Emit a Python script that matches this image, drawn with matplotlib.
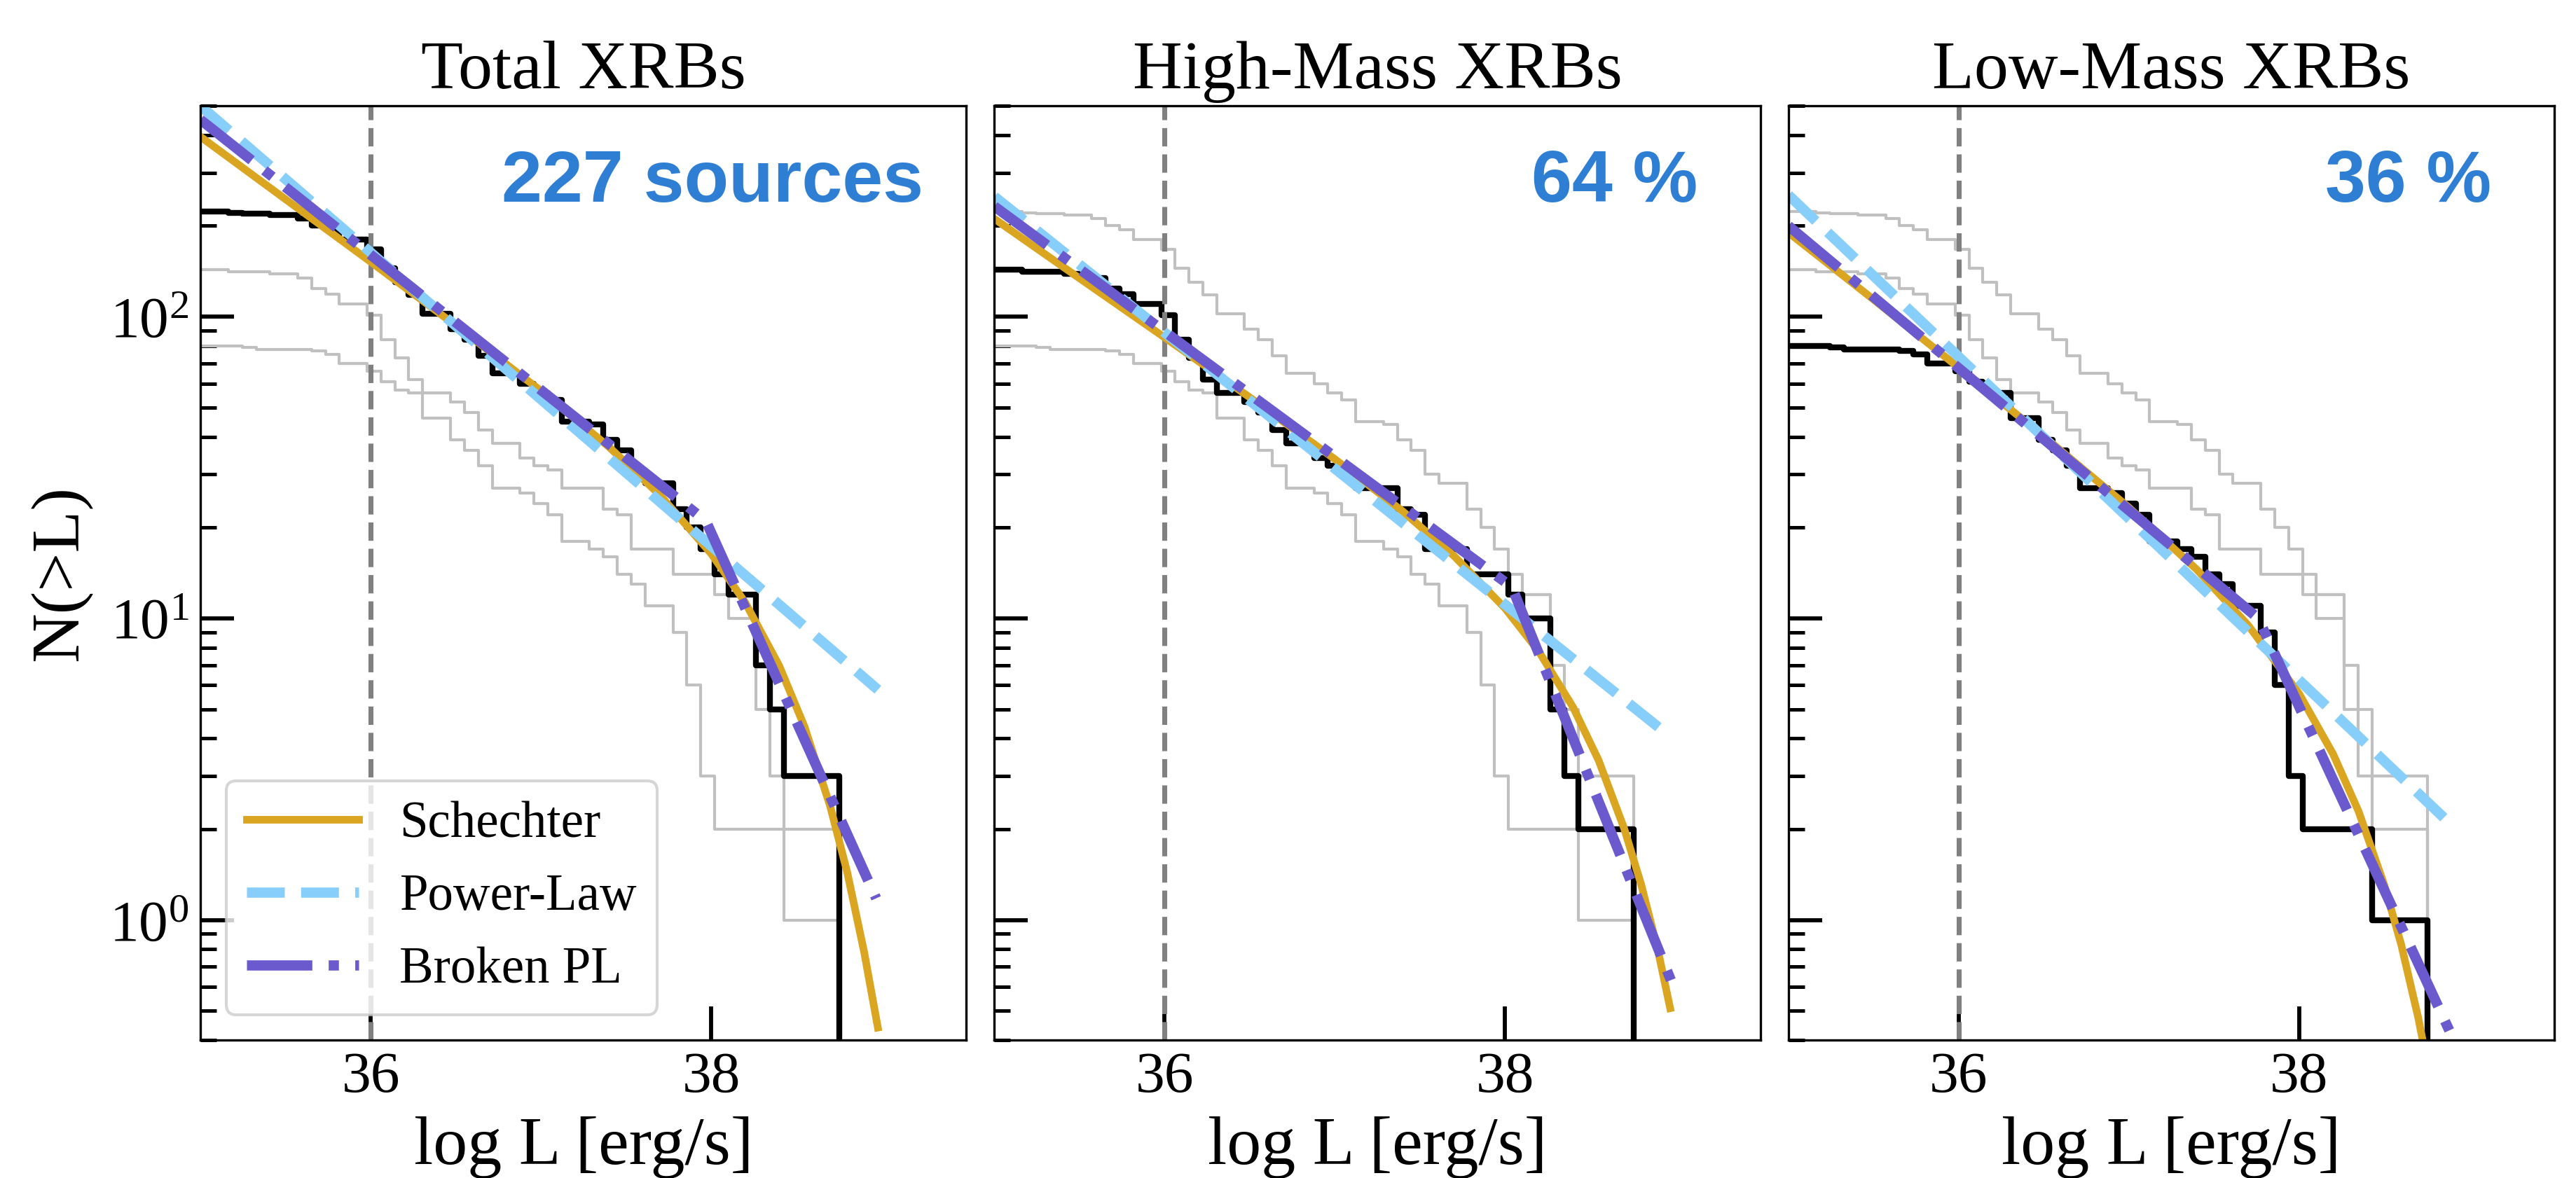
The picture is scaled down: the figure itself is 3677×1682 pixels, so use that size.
import matplotlib
matplotlib.use('Agg')
import matplotlib.pyplot as plt

plt.rcParams['font.family'] = ['Liberation Serif', 'DejaVu Serif']
plt.rcParams['mathtext.fontset'] = 'custom'
plt.rcParams['mathtext.rm'] = 'Liberation Serif'

# cumulative counts N(>L) (value holds until next edge)
logL_grid = [35.000, 35.082, 35.163, 35.245, 35.327, 35.408, 35.490, 35.571, 35.653, 35.735,
             35.816, 35.898, 35.980, 36.061, 36.143, 36.224, 36.306, 36.388, 36.469, 36.551,
             36.633, 36.714, 36.796, 36.878, 36.959, 37.041, 37.122, 37.204, 37.286, 37.367,
             37.449, 37.531, 37.612, 37.694, 37.776, 37.857, 37.939, 38.020, 38.102, 38.184,
             38.265, 38.347, 38.429, 38.510, 38.592, 38.673, 38.755]
N_total = [223, 223, 221, 220, 219, 217, 217, 212, 201, 194, 180, 180, 167, 145, 130, 118,
           102, 102, 91, 84, 74, 65, 65, 60, 56, 53, 45, 45, 44, 39, 36, 30, 28, 28, 23, 20,
           17, 14, 12, 12, 7, 5, 3, 3, 3, 3, 0]
N_hmxb = [143, 143, 141, 141, 141, 139, 139, 134, 124, 119, 110, 110, 101, 84, 73, 62,
          56, 56, 52, 48, 42, 38, 38, 34, 32, 31, 27, 27, 27, 23, 22, 17, 17, 17, 14, 14,
          14, 12, 10, 10, 5, 3, 2, 2, 2, 2, 0]
N_lmxb = [80, 80, 80, 79, 78, 78, 78, 78, 77, 75, 70, 70, 66, 61, 57, 56,
          46, 46, 39, 36, 32, 27, 27, 26, 24, 22, 18, 18, 17, 16, 14, 13, 11, 11, 9, 6,
          3, 2, 2, 2, 2, 2, 1, 1, 1, 1, 0]

titles = ['Total XRBs', 'High-Mass XRBs', 'Low-Mass XRBs']
notes = ['227 sources', '64 %', '36 %']

# fitted models, sampled from the plotted curves
sch_L_tot = [35.0, 35.5, 36.0, 36.5, 37.0, 37.4, 37.7, 38.0, 38.2, 38.4, 38.55, 38.7, 38.8, 38.9, 38.98]
sch_N_tot = [395, 245, 152, 93.5, 56.8, 37.0, 25.6, 16.4, 11.3, 6.97, 4.36, 2.38, 1.44, 0.78, 0.44]
sch_L_hm = [35.0, 35.5, 36.0, 36.5, 37.0, 37.4, 37.7, 38.0, 38.2, 38.4, 38.55, 38.7, 38.8, 38.9, 38.97]
sch_N_hm = [211, 134, 85.3, 54, 33.7, 22.6, 16.1, 10.8, 7.74, 5.07, 3.38, 2.01, 1.31, 0.785, 0.51]
sch_L_lm = [35.0, 35.5, 36.0, 36.5, 37.0, 37.4, 37.7, 38.0, 38.2, 38.35, 38.5, 38.6, 38.7, 38.76]
sch_N_lm = [190, 114, 67.8, 40.1, 23.3, 14.5, 9.5, 5.63, 3.55, 2.29, 1.31, 0.83, 0.475, 0.32]

pl_L_tot, pl_N_tot = [35.0, 38.98], [500, 5.8]
pl_L_hm, pl_N_hm = [35.0, 38.96], [250, 4.1]
pl_L_lm, pl_N_lm = [35.0, 38.91], [253, 2.03]

bpl_L_tot, bpl_N_tot = [35.0, 37.97, 38.97], [450, 21, 1.18]
bpl_L_hm, bpl_N_hm = [35.0, 38.04, 38.98], [232, 12.7, 0.62]
bpl_L_lm, bpl_N_lm = [35.0, 37.76, 39.0], [200, 10.0, 0.31]

curves = [N_total, N_hmxb, N_lmxb]
schechter = [(sch_L_tot, sch_N_tot), (sch_L_hm, sch_N_hm), (sch_L_lm, sch_N_lm)]
powerlaw = [(pl_L_tot, pl_N_tot), (pl_L_hm, pl_N_hm), (pl_L_lm, pl_N_lm)]
broken = [(bpl_L_tot, bpl_N_tot), (bpl_L_hm, bpl_N_hm), (bpl_L_lm, bpl_N_lm)]

fig, axes = plt.subplots(1, 3, sharey=True, figsize=(3677 / 300, 1682 / 300), dpi=300)
fig.subplots_adjust(left=0.0778, right=0.9916, bottom=0.1171, top=0.9102, wspace=0.0366)

for i, ax in enumerate(axes):
    # the other two populations in grey
    for j in range(3):
        if j != i:
            ax.step(logL_grid, curves[j], where='post', color='#c0c0c0', lw=1.0)
    ax.step(logL_grid, curves[i], where='post', color='black', lw=2.0)
    ax.axvline(36, color='#808080', ls='--', lw=1.7)

    ax.plot(*schechter[i], color='goldenrod', lw=2.6, label='Schechter')
    ax.plot(*powerlaw[i], color='lightskyblue', lw=3.5, ls='--', label='Power-Law')
    ax.plot(*broken[i], color='slateblue', lw=3.5, ls='-.', label='Broken PL')

    ax.set_yscale('log')
    ax.set_xlim(35, 39.5)
    ax.set_ylim(0.4, 500)
    ax.set_xticks([36, 38])
    ax.set_title(titles[i], fontsize=23.5, pad=6)
    ax.set_xlabel('log L [erg/s]', fontsize=23.5, labelpad=4)
    ax.tick_params(which='both', direction='in', top=False, right=False, labelsize=20, pad=4)
    ax.tick_params(which='major', length=11.5, width=1.4)
    ax.tick_params(which='minor', length=5.5, width=1.2)
    if i > 0:
        ax.tick_params(labelleft=False)

    x_txt = 0.944 if i == 0 else 0.918
    ax.text(x_txt, 0.897, notes[i], transform=ax.transAxes, ha='right', va='baseline',
            fontsize=25, fontweight='bold', family='Liberation Sans', color='#2e7fd4')

axes[0].set_ylabel('N(>L)', fontsize=23.5, labelpad=6)
axes[0].legend(loc='lower left', fontsize=17.5, handlelength=2.2)

fig.savefig('out.png', dpi=300)
